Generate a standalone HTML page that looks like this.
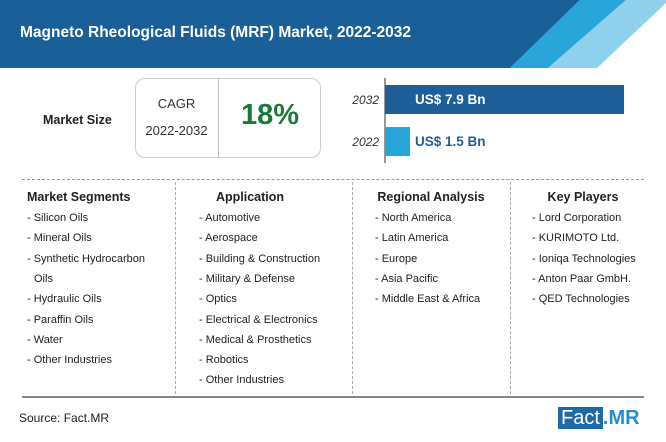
<!DOCTYPE html>
<html><head><meta charset="utf-8">
<style>
body{margin:0;width:666px;height:442px;overflow:hidden;background:#fff;font-family:"Liberation Sans",sans-serif;position:relative}
.a{position:absolute;white-space:nowrap}
.it{font-size:11px;color:#222}
.hd{font-size:12.5px;font-weight:bold;color:#222}
</style></head><body>
<svg class="a" style="left:0;top:0" width="666" height="70">
<polygon points="0,0 580,0 510,68 0,68" fill="#1a5f98"/>
<polygon points="580,0 626,0 548,68 510,68" fill="#29a6d9"/>
<polygon points="626,0 666,0 666,3 597,68 548,68" fill="#8fd0ec"/>
</svg>
<div class="a" style="left:20px;top:24px;font-size:15.5px;font-weight:bold;color:#fff">Magneto Rheological Fluids (MRF) Market, 2022-2032</div>
<div class="a" style="left:43px;top:113px;font-size:12.5px;font-weight:bold;color:#222">Market Size</div>
<div class="a" style="left:135px;top:78px;width:186px;height:80px;border:1px solid #ccc;border-radius:10px;box-sizing:border-box"></div>
<div class="a" style="left:218px;top:78px;width:1px;height:80px;background:#bbb"></div>
<div class="a" style="left:135px;top:96px;width:83px;text-align:center;font-size:13px;color:#333">CAGR</div>
<div class="a" style="left:135px;top:123px;width:83px;text-align:center;font-size:13px;color:#333">2022-2032</div>
<div class="a" style="left:219px;top:99px;width:102px;text-align:center;font-size:29px;font-weight:bold;color:#1b7a3a">18%</div>
<svg id="bars" class="a" style="left:340px;top:75px" width="326" height="95"></svg>
<div class="a" style="left:22px;top:179px;width:622px;border-top:1px dashed #999"></div>
<div class="a" style="left:22px;top:396px;width:622px;border-top:2px solid #888"></div>
<div class="a" style="left:175px;top:182px;height:212px;border-left:1px dashed #aaa"></div>
<div class="a" style="left:352px;top:182px;height:212px;border-left:1px dashed #aaa"></div>
<div class="a" style="left:510px;top:182px;height:212px;border-left:1px dashed #aaa"></div>
<div id="cols"></div>
<div class="a" style="left:19px;top:411px;font-size:12px;color:#222">Source: Fact.MR</div>
<div class="a" style="left:558px;top:406px;height:24px;font-size:20px;line-height:24px"><span style="background:#1f6aa5;color:#fff;padding:0 3px">Fact</span><span style="color:#1f8fd0;font-weight:bold">.MR</span></div>
<script>
const years=["2032","2022"];
const values=[7.9,1.5];
const valueLabels=["US$ 7.9 Bn","US$ 1.5 Bn"];
const colors=["#1f5f98","#29a6d9"];
const svg=document.getElementById('bars');
const NS="http://www.w3.org/2000/svg";
const x0=45,xmax=284,minV=0.75,maxV=7.9;
function xs(v){return x0+(xmax-x0)*(v-minV)/(maxV-minV);}
const ax=document.createElementNS(NS,'line');
ax.setAttribute('x1',x0);ax.setAttribute('x2',x0);ax.setAttribute('y1',3);ax.setAttribute('y2',88);ax.setAttribute('stroke','#333');


svg.appendChild(ax);
years.forEach((y,i)=>{
 const top=10+i*42;
 const r=document.createElementNS(NS,'rect');
 r.setAttribute('x',x0);r.setAttribute('y',top);r.setAttribute('width',Math.max(0,xs(values[i])-x0));r.setAttribute('height',29);r.setAttribute('fill',colors[i]);
 
 
 svg.appendChild(r);
 const t=document.createElementNS(NS,'text');
 t.setAttribute('x',x0-6);t.setAttribute('y',top+19);t.setAttribute('text-anchor','end');t.setAttribute('font-size','12');t.setAttribute('fill','#333');t.setAttribute('font-style','italic');t.textContent=y;
 
 
 svg.appendChild(t);
 const v=document.createElementNS(NS,'text');
 v.setAttribute('x',x0+30);v.setAttribute('y',top+19);v.setAttribute('font-size','13.5');v.setAttribute('font-weight','bold');v.setAttribute('fill',i==0?'#fff':'#1f5f98');v.textContent=valueLabels[i];
 
 
 svg.appendChild(v);
});
const cols=[
 {h:"Market Segments",hx:27,hc:false,ix:27,items:["- Silicon Oils","- Mineral Oils","- Synthetic Hydrocarbon","  Oils","- Hydraulic Oils","- Paraffin Oils","- Water","- Other Industries"]},
 {h:"Application",hx:250,hc:true,ix:199,items:["- Automotive","- Aerospace","- Building & Construction","- Military & Defense","- Optics","- Electrical & Electronics","- Medical & Prosthetics","- Robotics","- Other Industries"]},
 {h:"Regional Analysis",hx:431,hc:true,ix:375,items:["- North America","- Latin America","- Europe","- Asia Pacific","- Middle East & Africa"]},
 {h:"Key Players",hx:583,hc:true,ix:532,items:["- Lord Corporation","- KURIMOTO Ltd.","- Ioniqa Technologies","- Anton Paar GmbH.","- QED Technologies"]}
];
const c=document.getElementById('cols');
cols.forEach((col,ci)=>{
 const h=document.createElement('div');
 h.className='a hd';
 h.textContent=col.h;
 h.style.top='190px';
 if(col.hc){h.style.left=(col.hx-80)+'px';h.style.width='160px';h.style.textAlign='center';}else h.style.left=col.hx+'px';
 
 
 c.appendChild(h);
 col.items.forEach((t,i)=>{
  const d=document.createElement('div');
  d.className='a it';
  d.textContent=t.trim();
  d.style.left=(col.ix+(t.startsWith('  ')?7:0))+'px';
  d.style.top=(212+i*20.3)+'px';
  
  
  c.appendChild(d);
 });
});
</script>
</body></html>
